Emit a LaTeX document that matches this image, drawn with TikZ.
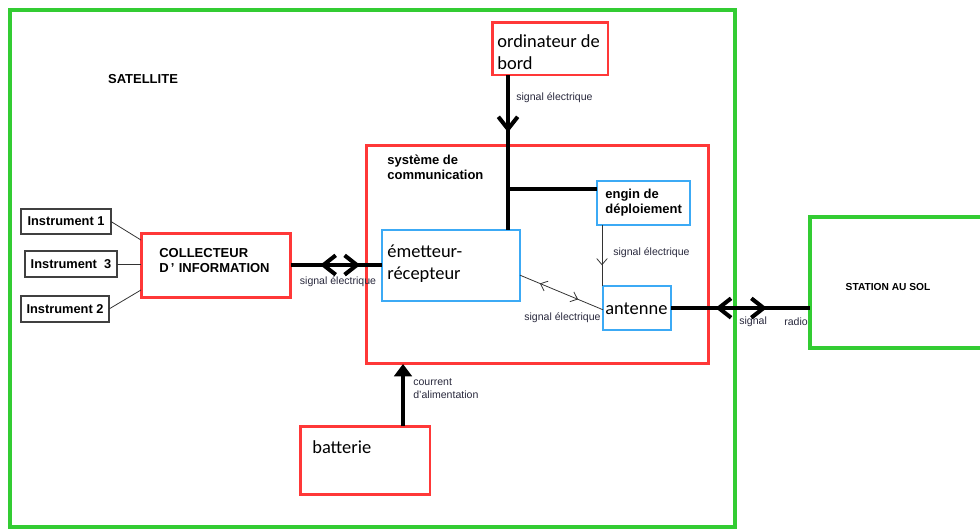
\documentclass[tikz,border=0pt]{standalone}
\usepackage{fontspec}
\setmainfont{Liberation Sans}
\newfontfamily\calib{Carlito}
\usetikzlibrary{arrows.meta,decorations.markings}
\definecolor{boxred}{RGB}{255,56,56}
\definecolor{boxgreen}{RGB}{51,204,51}
\definecolor{boxblue}{RGB}{60,170,245}
\definecolor{lbltext}{RGB}{40,40,60}
\tikzset{
	heavyhead/.tip={Straight Barb[length=7pt,width=11pt]},
	solidhead/.tip={Triangle[length=7pt,width=10pt]},
	thinhead/.tip={Straight Barb[length=3.5pt,width=6pt]}
}

\begin{document}
\begin{tikzpicture}[x=0.02cm,y=-0.02cm,
	redbox/.style={draw=boxred,line width=1.7pt,outer sep=0pt,inner sep=0pt},
	greenbox/.style={draw=boxgreen,line width=1.8pt,outer sep=0pt,inner sep=0pt},
	bluebox/.style={draw=boxblue,line width=0.6pt,outer sep=0pt,inner sep=0pt},
	instbox/.style={draw=black!75,line width=0.6pt,outer sep=0pt,inner sep=0pt,font=\fontsize{7.3}{8.5}\selectfont\bfseries},
	heavy/.style={line width=2.3pt},
	fine/.style={line width=0.45pt,draw=black!80},
	fwd/.style={postaction={decorate},decoration={markings,mark=at position #1 with {\arrow{heavyhead}}}},
	both/.style 2 args={postaction={decorate},decoration={markings,
		mark=at position #1 with {\arrowreversed{heavyhead}},mark=at position #2 with {\arrow{heavyhead}}}},
	lbl/.style={font=\fontsize{6}{7.4}\selectfont,text=lbltext,inner sep=0pt,align=left},
	bold/.style={font=\fontsize{7.4}{8.5}\selectfont\bfseries,inner sep=0pt,align=left},
	big/.style={font=\fontsize{10.5}{12.5}\selectfont\calib,inner sep=0pt,align=left}
	]
	\useasboundingbox (0,0) rectangle (980,529);
	% outer boxes
	\node[greenbox,minimum width=14.5cm,minimum height=10.34cm] (sat) at (372.5,268.5) {};
	\node[greenbox,minimum width=3.6cm,minimum height=2.62cm] (sta) at (900,282.5) {};
	\node[bold] at (143,79) {SATELLITE};
	\node[bold,font=\fontsize{5.8}{7}\selectfont\bfseries] at (888,287) {STATION AU SOL};
	% blocks
	\node[redbox,minimum width=2.32cm,minimum height=1.06cm] (ord) at (550,48.5) {};
	\node[big,anchor=west] at (497,52) {ordinateur de\\bord};
	\node[redbox,minimum width=6.86cm,minimum height=4.38cm] (com) at (537.5,254.5) {};
	\node[bold,anchor=west] at (387,167) {système de\\communication};
	\node[bluebox,minimum width=1.86cm,minimum height=0.88cm] (engin) at (643.5,203) {};
	\node[bold,anchor=west] at (605,202.5) {engin de\\déploiement};
	\node[bluebox,minimum width=2.76cm,minimum height=1.42cm] (er) at (451,265.5) {};
	\node[big,anchor=west] at (387,264) {émetteur-\\récepteur};
	\node[bluebox,minimum width=1.36cm,minimum height=0.88cm] (ant) at (637,308) {};
	\node[big,anchor=west] at (605,309) {antenne};
	\node[redbox,minimum width=3cm,minimum height=1.28cm] (coll) at (216,265) {};
	\node[bold,anchor=west] at (159,260.5) {COLLECTEUR\\D\,'\,\,INFORMATION};
	\node[redbox,minimum width=2.6cm,minimum height=1.36cm] (bat) at (365,460) {};
	\node[big,anchor=west] at (312,447) {batterie};
	% instruments
	\node[instbox,minimum width=1.8cm,minimum height=0.5cm] (ins1) at (66,221.5) {Instrument 1};
	\node[instbox,minimum width=1.84cm,minimum height=0.52cm] (ins3) at (71,264) {Instrument~~3};
	\node[instbox,minimum width=1.76cm,minimum height=0.52cm] (ins2) at (65,309) {Instrument 2};
	\draw[fine] (ins1.east) -- ([yshift=-4pt]coll.north west);
	\draw[fine] (ins3.east) -- (ins3.east -| coll.west);
	\draw[fine] (ins2.east) -- ([yshift=4pt]coll.south west);
	% links
	\coordinate (bus) at (508,189);
	\coordinate (pwr) at (403,400);
	\coordinate (dep) at (602,250);
	\draw[heavy,fwd=0.37] (bus |- ord.south) -- (bus |- er.north);
	\draw[heavy] (bus) -- (bus -| engin.west);
	\node[lbl,anchor=west] at (516,98) {signal électrique};
	\draw[heavy,both={0.32}{0.76}] (coll.east) -- (coll.east -| er.west);
	\node[lbl] at (338,282) {signal électrique};
	\draw[heavy,-{solidhead}] (pwr |- bat.north) -- (pwr |- com.south);
	\node[lbl,anchor=west] at (413,388.5) {courrent\\d'alimentation};
	\draw[fine,postaction={decorate},decoration={markings,mark=at position 0.66 with {\arrow{thinhead}}}] (dep |- engin.south) -- (dep |- ant.north);
	\node[lbl,anchor=west] at (613,253) {signal électrique};
	\draw[fine,postaction={decorate},decoration={markings,mark=at position 0.24 with {\arrowreversed{thinhead}},mark=at position 0.7 with {\arrow{thinhead}}}] ([yshift=-5.5pt]er.east) -- ([yshift=-1pt]ant.west);
	\node[lbl,anchor=west] at (524,318) {signal électrique};
	\draw[heavy,both={0.32}{0.69}] (ant.east) -- (ant.east -| sta.west);
	\node[lbl,anchor=west] at (739,322) {signal};
	\node[lbl,anchor=west] at (784,322) {radio};
\end{tikzpicture}
\end{document}
